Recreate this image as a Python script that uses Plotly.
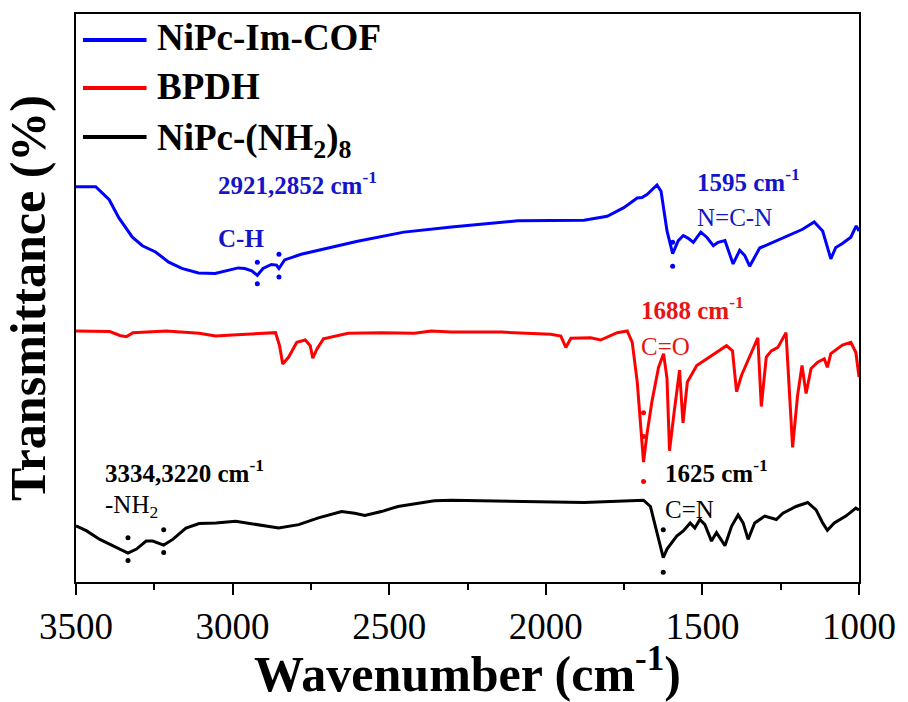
import numpy as np
import plotly.graph_objects as go

# ---- FTIR spectra (wavenumber in cm^-1, offset transmittance in a.u.) ----
cof_wn = [3500, 3437, 3394, 3363, 3320, 3288, 3246, 3204, 3162, 3109,
          3056, 3014, 2982, 2961, 2939, 2921, 2903, 2876, 2860, 2852,
          2834, 2781, 2707, 2601, 2453, 2301, 2089, 1878, 1804, 1751,
          1708, 1693, 1677, 1645, 1632, 1613, 1595, 1577, 1561, 1545,
          1529, 1505, 1486, 1465, 1450, 1428, 1402, 1381, 1365, 1349,
          1317, 1275, 1222, 1180, 1143, 1116, 1090, 1074, 1053, 1026,
          1009, 1000]
cof_t = [69.6, 69.6, 67.3, 64.1, 60.7, 59.2, 58.1, 56.3, 55.2, 54.4,
         54.3, 54.8, 55.3, 55.2, 54.8, 54.0, 55.2, 55.9, 55.8, 55.2,
         56.7, 57.7, 58.6, 60.0, 61.6, 62.5, 63.6, 63.7, 64.4, 65.9,
         67.6, 67.7, 68.2, 69.9, 68.8, 61.8, 57.8, 60.1, 61.0, 60.5,
         59.8, 61.6, 60.7, 59.2, 59.8, 60.1, 56.0, 58.4, 57.5, 55.6,
         58.8, 59.8, 61.2, 62.1, 63.4, 61.8, 56.9, 58.9, 59.6, 60.7,
         62.7, 61.8]

bpdh_wn = [3500, 3392, 3360, 3339, 3318, 3212, 3107, 3054, 3001, 2895,
           2863, 2850, 2840, 2821, 2795, 2768, 2752, 2744, 2731, 2710,
           2631, 2525, 2419, 2366, 2301, 2142, 1984, 1952, 1936, 1920,
           1857, 1825, 1772, 1740, 1724, 1708, 1688, 1677, 1661, 1640,
           1624, 1613, 1605, 1590, 1573, 1562, 1548, 1518, 1455, 1423,
           1404, 1391, 1375, 1344, 1323, 1312, 1296, 1280, 1259, 1233,
           1212, 1196, 1182, 1169, 1153, 1132, 1111, 1101, 1090, 1053,
           1026, 1010, 1000]
bpdh_t = [44.2, 44.1, 43.4, 43.2, 43.9, 44.2, 43.8, 43.3, 43.5, 43.9,
          43.9, 41.6, 38.4, 39.6, 42.2, 42.6, 41.6, 39.4, 41.0, 42.8,
          43.8, 43.9, 43.8, 44.2, 44.0, 44.0, 43.6, 43.3, 41.3, 42.9,
          43.0, 42.6, 43.9, 44.2, 42.2, 35.2, 21.1, 26.0, 31.8, 37.8,
          40.2, 35.8, 23.1, 30.0, 37.3, 28.0, 35.2, 38.1, 40.4, 41.6,
          40.7, 33.5, 36.4, 40.4, 43.0, 30.9, 39.6, 40.7, 41.3, 43.9,
          23.7, 32.9, 38.1, 33.2, 37.6, 38.7, 39.3, 37.8, 40.2, 41.7,
          42.2, 40.4, 36.1]

nh2_wn = [3500, 3466, 3424, 3371, 3334, 3307, 3276, 3255, 3234, 3220,
          3191, 3149, 3107, 3054, 2990, 2916, 2853, 2789, 2726, 2652,
          2610, 2578, 2525, 2472, 2387, 2356, 2301, 2195, 2089, 1984,
          1878, 1772, 1688, 1666, 1650, 1625, 1613, 1582, 1561, 1539,
          1524, 1508, 1492, 1471, 1455, 1428, 1407, 1386, 1370, 1354,
          1333, 1301, 1264, 1243, 1201, 1164, 1137, 1116, 1101, 1079,
          1042, 1010, 1000]
nh2_t = [9.9, 9.0, 7.5, 6.1, 5.1, 5.8, 7.2, 7.2, 6.8, 6.5,
         7.5, 9.5, 10.3, 10.4, 10.7, 10.1, 9.5, 10.1, 11.3, 12.4,
         12.1, 11.7, 12.4, 13.3, 14.0, 14.3, 14.4, 14.3, 14.2, 14.1,
         14.0, 14.2, 14.4, 13.3, 9.8, 4.3, 5.8, 8.1, 9.0, 10.4,
         9.5, 11.0, 10.1, 7.2, 8.7, 6.4, 9.8, 11.8, 10.4, 7.5,
         10.4, 11.6, 11.0, 12.1, 13.3, 14.0, 12.7, 10.4, 9.1, 10.4,
         11.6, 13.0, 12.7]

series_names = ["NiPc-Im-COF", "BPDH", "NiPc-(NH<sub>2</sub>)<sub>8</sub>"]

# assigned band positions (cm^-1) for each spectrum
cof_peaks = [2921, 2852, 1595]
bpdh_peaks = [1688]
nh2_peaks = [3334, 3220, 1625]

# ---- styling ----
SERIF = "Liberation Serif, Times New Roman, serif"
BLUE, RED, BLACK = "#0000ff", "#ff0000", "#000000"
BLUE_TXT, RED_TXT = "#1414c8", "#e61414"

# vertical gaps (axis units) of the marker dots from the curve at each band
cof_gaps = [(2.3, -1.5), (2.5, -1.5), (2.0, -2.2)]
bpdh_gaps = [(8.7, 4.5, -3.4)]
nh2_gaps = [(2.7, -1.3), (2.7, -1.3), (4.9, -2.6)]

spectra = [
    (series_names[0], cof_wn, cof_t, BLUE, cof_peaks, cof_gaps),
    (series_names[1], bpdh_wn, bpdh_t, RED, bpdh_peaks, bpdh_gaps),
    (series_names[2], nh2_wn, nh2_t, BLACK, nh2_peaks, nh2_gaps),
]

fig = go.Figure()
for name, wn, t, color, peaks, gaps in spectra:
    fig.add_trace(go.Scatter(x=wn, y=t, mode="lines", name=name,
                             line=dict(color=color, width=3),
                             showlegend=False, hoverinfo="x+y"))
    # dotted markers flagging the assigned bands
    wn_arr = np.array(wn)[::-1]
    t_arr = np.array(t)[::-1]
    dx, dy = [], []
    for p, g in zip(peaks, gaps):
        base = float(np.interp(p, wn_arr, t_arr))
        for off in g:
            dx.append(p)
            dy.append(base + off)
    fig.add_trace(go.Scatter(x=dx, y=dy, mode="markers", showlegend=False,
                             marker=dict(color=color, size=5),
                             hoverinfo="skip"))

# band labels: (text, x anchor in cm^-1, y, colour, bold)
labels = [
    ("2921,2852 cm<sup>-1</sup>", 3053, 70.2, BLUE_TXT, True),
    ("C-H", 3053, 60.5, BLUE_TXT, True),
    ("1595 cm<sup>-1</sup>", 1523, 70.7, BLUE_TXT, True),
    ("N=C-N", 1523, 64.2, BLUE_TXT, False),
    ("1688 cm<sup>-1</sup>", 1704, 48.3, RED_TXT, True),
    ("C=O", 1704, 41.5, RED_TXT, False),
    ("3334,3220 cm<sup>-1</sup>", 3414, 19.6, BLACK, True),
    ("-NH<sub>2</sub>", 3414, 13.3, BLACK, False),
    ("1625 cm<sup>-1</sup>", 1625, 19.6, BLACK, True),
    ("C=N", 1625, 12.7, BLACK, False),
]
for text, x, y, color, bold in labels:
    fig.add_annotation(x=x, y=y, xref="x", yref="y", showarrow=False,
                       xanchor="left", yanchor="middle",
                       text=f"<b>{text}</b>" if bold else text,
                       font=dict(family=SERIF, size=25, color=color))

# legend drawn as short line samples with bold labels
legend_line_y = [0.9544, 0.8695, 0.7834]
legend_text_y = [0.958, 0.873, 0.778]
for name, (_, _, _, color, _, _), ly, ty in zip(series_names, spectra,
                                                  legend_line_y, legend_text_y):
    fig.add_shape(type="line", xref="paper", yref="paper",
                  x0=0.0089, x1=0.0901, y0=ly, y1=ly,
                  line=dict(color=color, width=4))
    fig.add_annotation(x=0.1003, y=ty, xref="paper", yref="paper",
                       showarrow=False, xanchor="left", yanchor="middle",
                       text=f"<b>{name}</b>",
                       font=dict(family=SERIF, size=37, color="black"))

fig.update_xaxes(
    range=[3500, 1000], tickmode="linear", tick0=1000, dtick=500,
    ticks="outside", ticklen=11, tickwidth=2, tickcolor="black",
    minor=dict(ticks="outside", ticklen=6, tickwidth=2, tick0=1000,
               dtick=250, tickcolor="black"),
    showline=True, linewidth=2, linecolor="black", mirror=True,
    showgrid=False, zeroline=False,
    tickfont=dict(family=SERIF, size=37, color="black"),
    title=dict(text="<b>Wavenumber (cm<sup>-1</sup>)</b>", standoff=8,
               font=dict(family=SERIF, size=50, color="black")),
)
fig.update_yaxes(
    range=[0, 100], showticklabels=False, ticks="",
    showline=True, linewidth=2, linecolor="black", mirror=True,
    showgrid=False, zeroline=False,
    title=dict(text="<b>Transmittance (%)</b>", standoff=14,
               font=dict(family=SERIF, size=50, color="black")),
)

fig.update_layout(
    width=908, height=702,
    margin=dict(l=76, r=44, t=13, b=112),
    paper_bgcolor="white", plot_bgcolor="white",
    showlegend=False,
)

fig.write_html("out.html")
